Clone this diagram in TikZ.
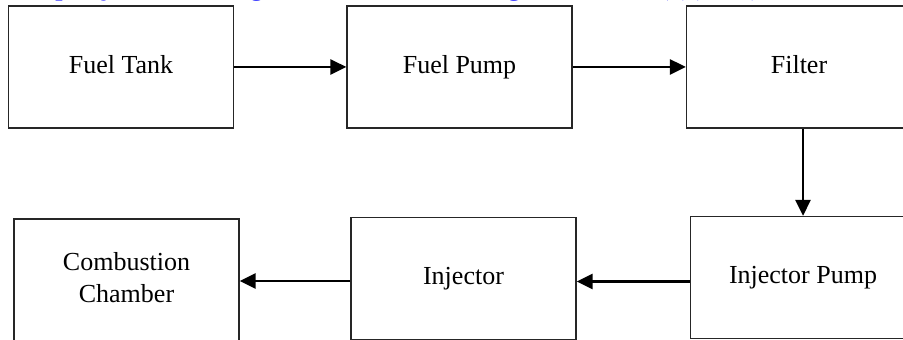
\documentclass[tikz,border=0pt]{standalone}
\usepackage{fontspec}
\setmainfont{Liberation Serif}
\usetikzlibrary{arrows.meta}
\definecolor{linkblue}{RGB}{0,0,255}
\tikzset{
  blk/.style={draw=black!85, line width=0.6pt, fill=white, inner sep=0pt,
    minimum width=112.5pt, minimum height=61pt, align=center,
    font=\fontsize{13}{16}\selectfont},
  arr/.style={draw=black, line width=1.4pt, -{Triangle[length=8pt,width=7.5pt]}},
  cut/.style={anchor=base west, inner sep=0pt, text=linkblue,
    font=\fontsize{13}{16}\selectfont\bfseries}
}
\begin{document}
\begin{tikzpicture}[x=0.5pt,y=-0.5pt]
\useasboundingbox (0,0) rectangle (903,340);
\fill[white] (0,0) rectangle (903,340);
\begin{scope}
\clip (0,0) rectangle (903,340);
\node[cut] (cap) at (-10,-4) {Example, journal of Engine Research and Design Review, 10(1)(2020),};
% top row
\node[blk] (tank)   at (121,67)    {\strut Fuel Tank};
\node[blk] (pump)   at (459.5,67)  {\strut Fuel Pump};
\node[blk] (filter) at (799,67)    {\strut Filter};
% bottom row
\node[blk] (ip)  at (803,277.5)   {\strut Injector Pump};
\node[blk] (inj) at (463.5,278.5) {\strut Injector};
\node[blk] (cc)  at (126.5,280)   {\strut Combustion\\\strut Chamber};
% connectors
\draw[arr] (tank.east) -- (pump.west);
\draw[arr] (pump.east) -- (filter.west);
\draw[arr] (ip.north |- filter.south) -- (ip.north);
\draw[arr] ([yshift=-2pt]ip.west) -- ([yshift=-2pt]ip.west -| inj.east);
\draw[arr] ([yshift=-1.25pt]inj.west) -- ([yshift=-1.25pt]inj.west -| cc.east);
\end{scope}
\end{tikzpicture}
\end{document}
